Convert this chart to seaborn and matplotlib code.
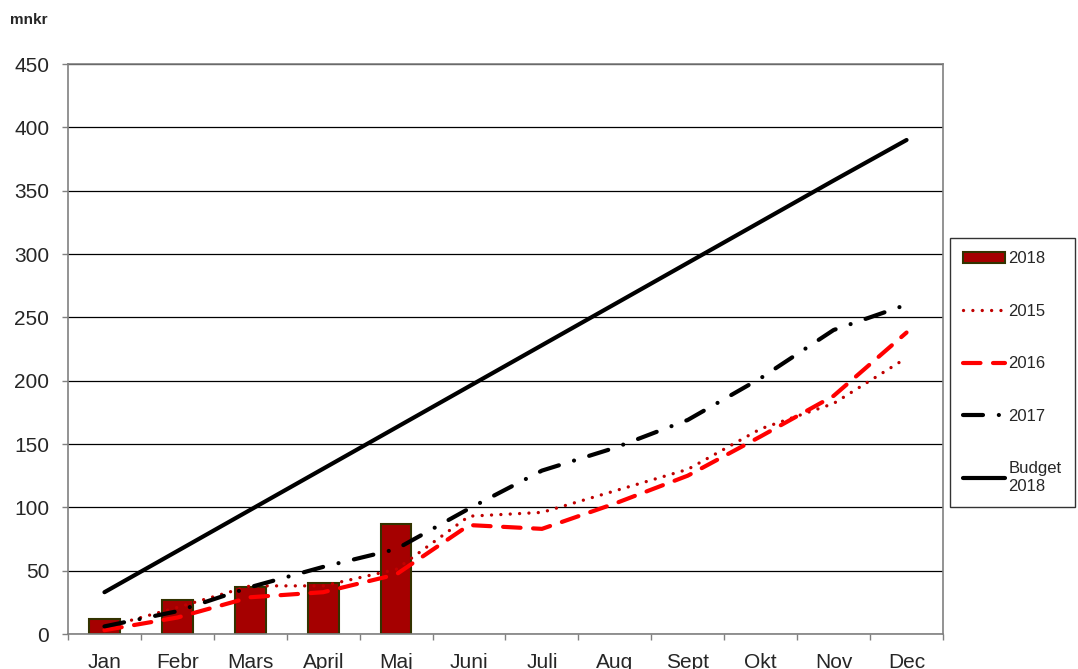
import numpy as np
import pandas as pd
import matplotlib
matplotlib.use("Agg")
import matplotlib.pyplot as plt
from matplotlib.patches import Patch
import seaborn as sns

months = ["Jan", "Febr", "Mars", "April", "Maj", "Juni", "Juli", "Aug", "Sept", "Okt", "Nov", "Dec"]
bar_months = ["Jan", "Febr", "Mars", "April", "Maj"]
val_2018 = [12, 27, 37, 40, 87]
val_2015 = [5, 21, 38, 38, 51, 93, 96, 113, 130, 162, 182, 218]
val_2016 = [3, 13, 29, 33, 47, 86, 83, 103, 125, 156, 188, 238]
val_2017 = [6, 18, 37, 53, 67, 99, 129, 147, 169, 202, 240, 260]
budget_2018 = [33, 65.5, 98, 130.5, 163, 195.5, 228, 260.5, 293, 325.5, 358, 390]
yticks = [0, 50, 100, 150, 200, 250, 300, 350, 400, 450]

sns.set_theme(style="white")
plt.rcParams["font.family"] = ["Liberation Sans", "DejaVu Sans"]

fig = plt.figure(figsize=(10.78, 6.69), dpi=100)
ax = fig.add_axes([68 / 1078, 1 - 634 / 669, (943 - 68) / 1078, (634 - 64) / 669])

bar_color = "#A50000"
bar_edge = "#333300"
df_bar = pd.DataFrame({"month": bar_months, "value": val_2018})
sns.barplot(data=df_bar, x="month", y="value", order=months, color=bar_color,
            saturation=1, width=0.42, edgecolor=bar_edge, linewidth=1.5, ax=ax, zorder=2)

pos = np.arange(len(months))
sns.lineplot(x=pos, y=val_2015, color="#C00000", lw=2.4, ax=ax,
             linestyle=(0, (0.01, 2.8)), dash_capstyle="round", zorder=3)
sns.lineplot(x=pos, y=val_2016, color="#FF0000", lw=3, ax=ax,
             linestyle=(0, (4.2, 3.0)), dash_capstyle="round", zorder=3)
sns.lineplot(x=pos, y=val_2017, color="black", lw=3, ax=ax,
             linestyle=(0, (4.8, 3.8, 0.01, 3.8)), dash_capstyle="round", zorder=3)
sns.lineplot(x=pos, y=budget_2018, color="black", lw=3, ax=ax, zorder=3)

ax.set_xlim(-0.5, len(months) - 0.5)
ax.set_ylim(0, 450)
ax.set_yticks(yticks)
ax.set_xticks(pos)
ax.set_xticklabels(months)
ax.set_xticks(np.arange(-0.5, len(months), 1.0), minor=True)
ax.set_xlabel("")
ax.set_ylabel("")

ax.yaxis.grid(True, color="black", lw=0.9)
ax.xaxis.grid(False)
ax.set_axisbelow(True)
for sp in ax.spines.values():
    sp.set_visible(True)
    sp.set_color("#808080")
    sp.set_linewidth(1.2)

ax.tick_params(axis="y", which="major", direction="out", length=4.5, width=1,
               color="#808080", labelsize=15, pad=9, left=True)
ax.tick_params(axis="x", which="major", length=0, labelsize=15, pad=14, bottom=True)
ax.tick_params(axis="x", which="minor", direction="out", length=4.5, width=1,
               color="#808080", bottom=True)

fig.text(10 / 1078, 1 - 20 / 669, "mnkr", fontsize=11, fontweight="bold", va="center", ha="left")

handles = [
    Patch(facecolor=bar_color, edgecolor=bar_edge, linewidth=1.5),
    plt.Line2D([], [], color="#C00000", lw=2.4, linestyle=(0, (0.01, 2.8)), dash_capstyle="round"),
    plt.Line2D([], [], color="#FF0000", lw=3, linestyle=(0, (4.2, 3.0)), dash_capstyle="round"),
    plt.Line2D([], [], color="black", lw=3, linestyle=(0, (4.8, 3.8, 0.01, 3.8)), dash_capstyle="round"),
    plt.Line2D([], [], color="black", lw=3),
]
labels = ["2018", "2015", "2016", "2017", "Budget\n2018"]
leg = fig.legend(handles, labels, loc="upper left", bbox_to_anchor=(950 / 1078, 1 - 238 / 669),
                 fontsize=12, frameon=True, fancybox=False, labelspacing=2.25,
                 handlelength=2.5, handletextpad=0.2, borderpad=0.8, borderaxespad=0)
leg.get_frame().set_edgecolor("black")
leg.get_frame().set_linewidth(1)

fig.savefig("out.png", dpi=100)
